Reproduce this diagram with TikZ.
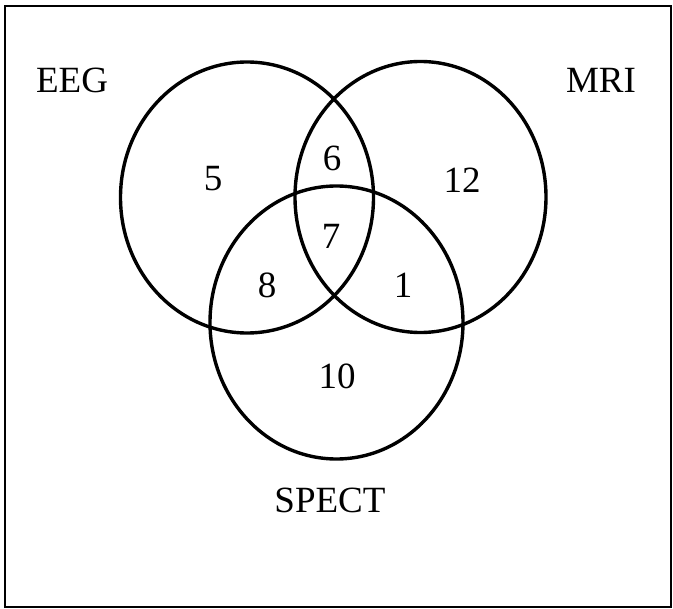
\documentclass[tikz,border=0pt]{standalone}
\usepackage{fontspec}
\setmainfont{Liberation Serif}
\begin{document}
\begin{tikzpicture}[x=1pt,y=-1pt,
  setcircle/.style={line width=3.4pt,draw=black},
  lbl/.style={inner sep=0pt,font=\fontsize{37}{44}\selectfont}]
\useasboundingbox (0,0) rectangle (673,609);
\draw[line width=2pt] (5,6) rectangle (671,607);
\draw[setcircle] (247,197.5) ellipse [x radius=126.5pt, y radius=135.5pt];
\draw[setcircle] (420.5,197) ellipse [x radius=125.5pt, y radius=135.5pt];
\draw[setcircle] (336.5,322.5) ellipse [x radius=126.5pt, y radius=136.5pt];
\node[lbl] (eeg) at (72,80.5) {EEG};
\node[lbl] (mri) at (601,80) {MRI};
\node[lbl] (spect) at (330,500.5) {SPECT};
\node[lbl] (n5) at (213,179) {5};
\node[lbl] (n6) at (332,158) {6};
\node[lbl] (n7) at (331,236) {7};
\node[lbl] (n8) at (267,285) {8};
\node[lbl] (n1) at (403,285) {1};
\node[lbl] (n12) at (462,180) {12};
\node[lbl] (n10) at (337,376) {10};
\end{tikzpicture}
\end{document}
